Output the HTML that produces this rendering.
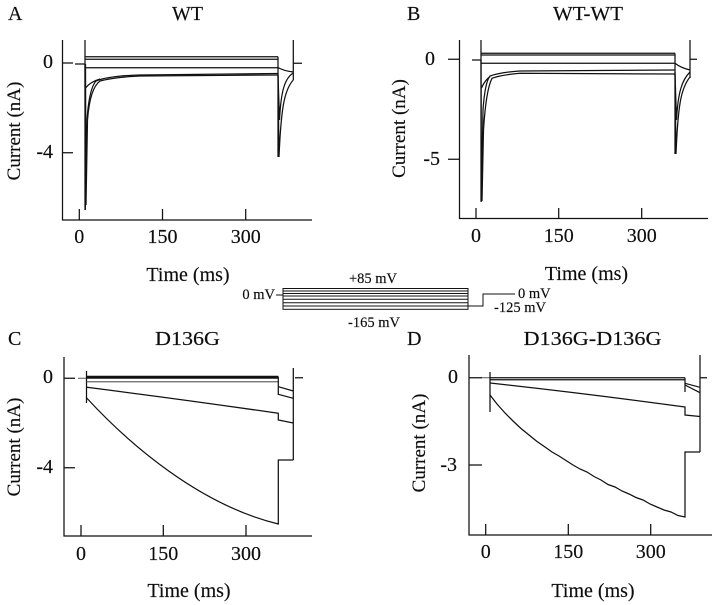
<!DOCTYPE html>
<html><head><meta charset="utf-8"><style>
html,body{margin:0;padding:0;background:#fff;}
svg{display:block;}
text{font-family:"Liberation Serif","Times New Roman",serif;fill:#0d0d0d;stroke:#0d0d0d;stroke-width:0.15;}
</style></head><body>
<svg width="720" height="605" viewBox="0 0 720 605" xmlns="http://www.w3.org/2000/svg">
<rect width="720" height="605" fill="#fff"/>
<g fill="none" stroke="#111" stroke-width="1.25">
<!-- ===== Panel A ===== -->
<path d="M62.5,40 V220 H312"/>
<path d="M79.3,209 V220 M162.5,209 V220 M245.7,209 V220"/>
<path d="M62.5,63 H73 M62.5,152.7 H73 M75,64 H85"/>
<path d="M85,40 V210"/>
<path d="M85,56.7 H278 M85,59.3 H278 M85,67.7 H278"/>
<path d="M85,64 L85.3,210 L86.5,130 Q88,90 96,81 Q108,76 140,75 L278,73.5"/>
<path d="M85.5,64 L86,205 L87.5,120 Q90,88 100,81 Q115,77 140,76 L278,75"/>
<path d="M85.5,88 Q90,82 100,79"/>
<path d="M278,56.7 V157"/>
<path d="M278,74 L279,157 C281,110 284,90 293.3,80"/>
<path d="M278,75 L279.5,120 C281,90 285,78 293.3,73"/>
<path d="M278,67.5 Q284,71 293.3,72"/>
<path d="M293.3,40 V80 M293.3,63.3 H302"/>

<!-- ===== Panel B ===== -->
<path d="M459.5,40 V218.5 H708"/>
<path d="M476,208 V218.5 M558.7,208 V218.5 M641.7,208 V218.5"/>
<path d="M448,59.3 H459.5 M448,159.3 H459.5 M472,60 H481"/>
<path d="M481,40 V201.7"/>
<path d="M481,53.3 H675 M481,55 H675 M481,63.3 H675"/>
<path d="M481,60 L481.5,201.7 L483,110 Q485,82 490,76 Q500,72.3 520,71 L675,70"/>
<path d="M482,201 L483.5,130 Q486,90 492,78.3 Q500,75 520,73.3 L675,74"/>
<path d="M481.5,88 Q485,80 490,76.7"/>
<path d="M675,53.3 V154"/>
<path d="M675,72 L676,154 C678,105 681,88 690,77"/>
<path d="M675,74 L676.5,120 C678,92 682,80 690,72"/>
<path d="M675,63.3 Q681,68 690,70"/>
<path d="M690,40 V78 M690,59.3 H697"/>

<!-- ===== Protocol ===== -->
<g stroke-width="1">
<rect x="283" y="288.5" width="185" height="20.8"/>
<path d="M283,291 H468 M283,293.5 H468 M283,296 H468 M283,299.3 H468 M283,302.7 H468 M283,306 H468"/>
<path d="M276,295 H283"/>
<path d="M468,306 H483 V294 H515"/>
</g>

<!-- ===== Panel C ===== -->
<path d="M64,357 V536 H312"/>
<path d="M81,525 V536 M163.3,525 V536 M246,525 V536"/>
<path d="M64,378.3 H75 M64,467.7 H75"/>
<path d="M78,378.3 H87" stroke="#777"/>
<path d="M86.5,371 V403"/>
<path d="M86.7,377.3 H278.3" stroke-width="3"/>
<path d="M86.7,381.7 H278.3" stroke="#666"/>
<path d="M86.7,387.3 Q180,399 278.3,413.3 L278.3,420 L293.3,423"/>
<path d="M86.7,398 C130,445 200,505 278.3,524 L278.3,460 L293.3,460"/>
<path d="M278.3,376.7 V395"/>
<path d="M278.3,386.7 L293.3,391 M278.3,394.3 L293.3,398.3"/>
<path d="M293.3,368 V460 M295,377.7 H303"/>

<!-- ===== Panel D ===== -->
<path d="M469,355 V535 H712"/>
<path d="M485.7,524 V535 M568.3,524 V535 M650.7,524 V535"/>
<path d="M469,377.7 H482 M469,465 H482"/>
<path d="M482,377.7 H490" stroke="#777"/>
<path d="M490,372 V412"/>
<path d="M490,377.7 H685 M490,379.8 H685"/>
<path d="M490,383 Q590,394 685,407 L685,415 L700,416.5"/>
<path d="M490,395 L497,404 L505,413 L513,421 L521,428.5 L529,435 L537,441.5 L545,447 L552,452 L559,456 L566,460.5 L573,465 L580,469 L587,472 L594,476.5 L601,480 L608,484.5 L615,487 L622,491 L629,494 L636,497.5 L643,500 L650,504 L657,507 L664,510 L671,512 L678,515.5 L685,517 L685,452 L700,452"/>
<path d="M685,377.7 V392"/>
<path d="M685,383.3 L700,387.3 M685,385 L700,392.7"/>
<path d="M700,355 V452 M700,377.7 H707"/>
</g>

<!-- ===== Text ===== -->
<g font-size="20">
<text x="8" y="20">A</text>
<text x="407" y="20">B</text>
<text x="8" y="345">C</text>
<text x="407" y="345">D</text>
</g>
<g font-size="20" text-anchor="middle">
<text x="187.5" y="20" textLength="31" lengthAdjust="spacingAndGlyphs">WT</text>
<text x="588" y="20" textLength="70" lengthAdjust="spacingAndGlyphs">WT-WT</text>
<text x="187.5" y="345" textLength="65" lengthAdjust="spacingAndGlyphs">D136G</text>
<text x="592.5" y="345" textLength="138" lengthAdjust="spacingAndGlyphs">D136G-D136G</text>
</g>
<g font-size="20">
<!-- A ticks -->
<text x="53" y="68" text-anchor="end">0</text>
<text x="53" y="158" text-anchor="end">-4</text>
<text x="79.3" y="243" text-anchor="middle">0</text>
<text x="162.5" y="243" text-anchor="middle">150</text>
<text x="245.7" y="243" text-anchor="middle">300</text>
<text x="188" y="281" text-anchor="middle">Time (ms)</text>
<text transform="translate(20,131) rotate(-90)" text-anchor="middle" font-size="19">Current (nA)</text>
<!-- B ticks -->
<text x="435" y="65" text-anchor="end">0</text>
<text x="440" y="165" text-anchor="end">-5</text>
<text x="476" y="242" text-anchor="middle">0</text>
<text x="558.7" y="242" text-anchor="middle">150</text>
<text x="641.7" y="242" text-anchor="middle">300</text>
<text x="586.5" y="280" text-anchor="middle">Time (ms)</text>
<text transform="translate(405,128.5) rotate(-90)" text-anchor="middle" font-size="19">Current (nA)</text>
<!-- C ticks -->
<text x="53" y="383" text-anchor="end">0</text>
<text x="53" y="473" text-anchor="end">-4</text>
<text x="81" y="560" text-anchor="middle">0</text>
<text x="163.3" y="560" text-anchor="middle">150</text>
<text x="246" y="560" text-anchor="middle">300</text>
<text x="189" y="597" text-anchor="middle">Time (ms)</text>
<text transform="translate(20,447) rotate(-90)" text-anchor="middle" font-size="19">Current (nA)</text>
<!-- D ticks -->
<text x="458" y="383" text-anchor="end">0</text>
<text x="457" y="471" text-anchor="end">-3</text>
<text x="485.7" y="558" text-anchor="middle">0</text>
<text x="568.3" y="558" text-anchor="middle">150</text>
<text x="650.7" y="558" text-anchor="middle">300</text>
<text x="593" y="597" text-anchor="middle">Time (ms)</text>
<text transform="translate(425,443) rotate(-90)" text-anchor="middle" font-size="19">Current (nA)</text>
</g>
<g font-size="14.5">
<text x="373" y="283" text-anchor="middle">+85 mV</text>
<text x="275" y="299" text-anchor="end">0 mV</text>
<text x="374" y="327" text-anchor="middle">-165 mV</text>
<text x="518" y="298">0 mV</text>
<text x="494" y="312">-125 mV</text>
</g>
</svg>
</body></html>
